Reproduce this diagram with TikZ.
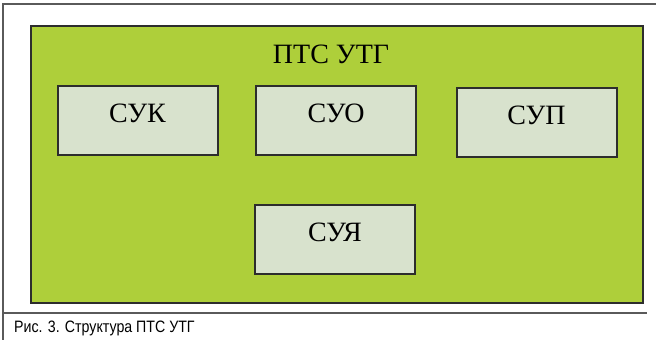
\documentclass[tikz,border=0pt]{standalone}
\usepackage{fontspec}
\setmainfont{Liberation Serif}
\newfontfamily\capfont[FakeStretch=0.86]{Liberation Sans}
\usepackage{tikz}
\definecolor{utggreen}{RGB}{174,207,58}
\definecolor{subfill}{RGB}{216,226,205}
\definecolor{edgegray}{RGB}{45,45,45}
\definecolor{framegray}{RGB}{90,90,90}

\begin{document}
\begin{tikzpicture} [x=1pt, y=-1pt, align=center,
	sub/.style={rectangle, draw=edgegray, line width=2pt, fill=subfill, minimum width=160pt, minimum height=69pt, inner sep=0pt, text height=20pt, text depth=16pt, font=\fontsize{28}{30}\selectfont}]
\useasboundingbox (0,0) rectangle (656,340);

\path (3,340) coordinate (fl)
	  (3,4) coordinate (ftl)
	  (656,4) coordinate (ftr)
	  (3,313) coordinate (sl)
	  (647,313) coordinate (sr);

\draw[framegray, line width=1.2pt] (fl) -- (ftl) -- (ftr);
\draw[framegray, line width=1.2pt] (sl) -- (sr);

\path (336.5,164) node[rectangle, draw=edgegray, line width=2pt, fill=utggreen, minimum width=612pt, minimum height=277pt] (pts) {};

\path (331,63) node[anchor=base, font=\fontsize{28}{30}\selectfont] (title) {ПТС УТГ};

\path (137.5,120.5) node[sub] (suk) {СУК}
	  (336,120) node[sub] (suo) {СУО}
	  (536.5,122) node[sub] (sup) {СУП}
	  (335,239.5) node[sub] (suya) {СУЯ};

\path (14,332) node[anchor=base west, inner sep=0pt, font=\fontsize{16.5}{18}\capfont] (cap) {Рис. 3. Структура ПТС УТГ};
\end{tikzpicture}
\end{document}
